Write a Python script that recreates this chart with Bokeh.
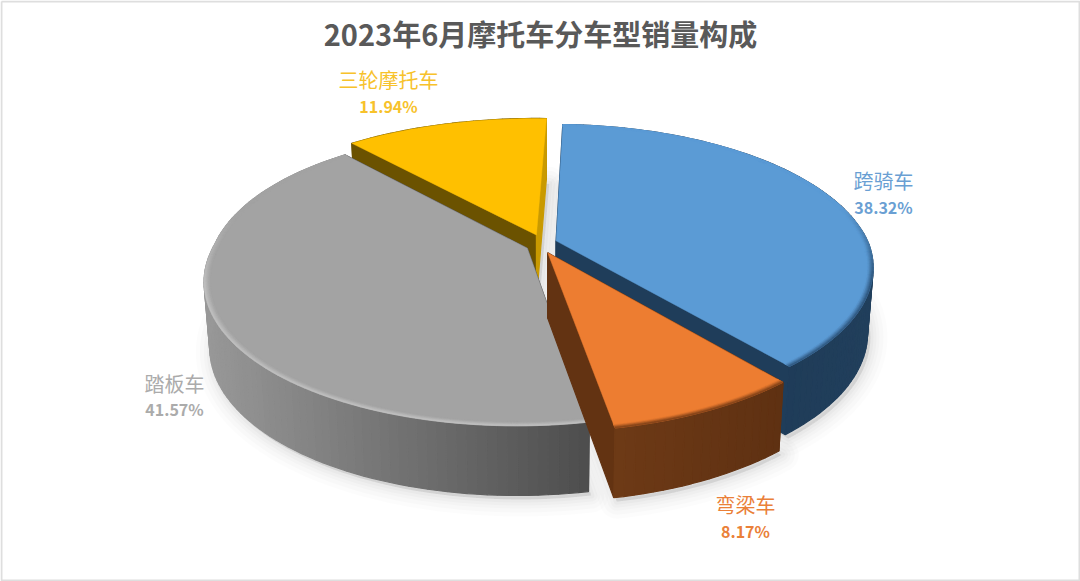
import math
from bokeh.plotting import figure
from bokeh.models import Range1d
from bokeh.core.properties import value
from bokeh.embed import file_html
from bokeh.resources import INLINE

# ---------- data ----------
title_text = "2023年6月摩托车分车型销量构成"
categories = ["跨骑车", "弯梁车", "踏板车", "三轮摩托车"]
shares = [38.32, 8.17, 41.57, 11.94]

# ---------- styles ----------
top_colors = ["#5B9BD5", "#ED7D31", "#A3A3A3", "#FFC000"]
label_colors = ["#6A9FD3", "#EA8038", "#ABABAB", "#F7C22B"]
rim_colors = ["#274A6E", "#6B3513", "#C6C6C6", "#FFC000"]
wall_left = ["#1F3C58", "#6E3A16", "#989898", "#6B5200"]
wall_right = ["#213F5C", "#5F3112", "#4E4E4E", "#6B5200"]
radial_start = ["#1F3C58", "#633312", "#505050", "#6B5200"]
radial_end = ["#1F3D5A", "#633312", "#505050", "#C99A00"]
label_xy = [(883, 180, 883, 206), (745, 504, 745, 530), (174, 383, 174, 408), (388, 79, 388, 105)]
font = value("Noto Sans CJK SC")
W, H_PAGE = 1080, 581

# ---------- projection of the exploded, tilted disk ----------
CX, CY, R, RY, K, H = 541.0, 243.5, 316.0, 142.0, 0.20, 65.0
EU, EV = 0.049, 0.068
ROT = 2.0
SHRINK = 0.983
SHEAR = -7.0
SHEAR_BACK = 10.0
RAD = [0.99, 0.985, 0.99, 1.01]      # per-slice radius trim
EXP = [1.0, 1.0, 1.0, 1.0]           # per-slice explosion trim


def proj(u, v, drop=False):
    s = 1 / (1 - K * v)
    x = CX + R * u * s + SHEAR * max(v, 0.0) + SHEAR_BACK * min(v, 0.0) * max(-u, 0.0)
    y = CY + RY * v * s
    if drop:
        x = CX + (x - CX) * SHRINK
        y += H * s ** 0.3
    return x, y


def hex2rgb(c):
    return tuple(int(c[i:i + 2], 16) for i in (1, 3, 5))


def mix(a, b, t):
    t = max(0.0, min(1.0, t))
    ra, rb = hex2rgb(a), hex2rgb(b)
    return "#%02x%02x%02x" % tuple(round(x + (y - x) * t) for x, y in zip(ra, rb))


p = figure(width=W, height=H_PAGE, output_backend="svg", toolbar_location=None,
           x_range=Range1d(0, W), y_range=Range1d(H_PAGE, 0), min_border=0)
p.axis.visible = False
p.grid.visible = False
p.outline_line_color = None
p.background_fill_color = "white"
p.border_fill_color = "white"

total = sum(shares)
slices = []
a = ROT
for i, sh in enumerate(shares):
    b = a + sh / total * 360
    slices.append((i, a, b))
    a = b


def geom(i, a0, a1):
    mid = math.radians((a0 + a1) / 2)
    u0, v0 = EXP[i] * EU * math.sin(mid), -EXP[i] * EV * math.cos(mid)
    n = max(4, int((a1 - a0) / 1.5))
    angs = [math.radians(a0 + (a1 - a0) * j / n) for j in range(n + 1)]
    return u0, v0, angs


# soft shadow underneath
for w, alpha in ((34, 0.012), (26, 0.014), (18, 0.016), (12, 0.02), (6, 0.025)):
    for i, a0, a1 in slices:
        u0, v0, angs = geom(i, a0, a1)
        rr = RAD[i]
        pts = [proj(u0, v0, True)] + [proj(u0 + rr * math.sin(t), v0 - rr * math.cos(t), True) for t in angs]
        p.patch([q[0] + 3 for q in pts], [q[1] + 4 for q in pts], fill_color="black", fill_alpha=alpha,
                line_color="black", line_alpha=alpha, line_width=w, line_join="round")

# painter's order: back slice first, front slice last
wall_span = {0: (780.0, 873.0), 1: (616.0, 783.0), 2: (205.0, 590.0), 3: (350.0, 545.0)}
for i, a0, a1 in (slices[3], slices[0], slices[2], slices[1]):
    u0, v0, angs = geom(i, a0, a1)
    rr = RAD[i]
    xs, ys, cs = [], [], []

    def quad(pts, c):
        xs.append([q[0] for q in pts])
        ys.append([q[1] for q in pts])
        cs.append(c)

    xmin, xmax = wall_span[i]
    segs = list(zip(angs[:-1], angs[1:]))

    def wall(t0, t1):
        e0 = (u0 + rr * math.sin(t0), v0 - rr * math.cos(t0))
        e1 = (u0 + rr * math.sin(t1), v0 - rr * math.cos(t1))
        quad([proj(*e0), proj(*e1), proj(*e1, True), proj(*e0, True)],
             mix(wall_left[i], wall_right[i], (proj(*e0)[0] - xmin) / (xmax - xmin)))

    # far side of the rim, then the cut faces, then the near side of the rim
    for t0, t1 in segs:
        if -math.cos((t0 + t1) / 2) < -0.02:
            wall(t0, t1)
    for t, c, drop_scale in ((angs[0], radial_start[i], 1), (angs[-1], radial_end[i], 1)):
        e = (u0 + rr * math.sin(t), v0 - rr * math.cos(t))
        quad([proj(u0, v0), proj(*e), proj(*e, True), proj(u0, v0, True)], c)
    for t0, t1 in segs:
        if -math.cos((t0 + t1) / 2) >= -0.02:
            wall(t0, t1)
    p.patches(xs, ys, fill_color=cs, line_color=cs, line_width=1.2)

    # top face
    top = [proj(u0, v0)] + [proj(u0 + rr * math.sin(t), v0 - rr * math.cos(t)) for t in angs]
    p.patch([q[0] for q in top], [q[1] for q in top], fill_color=top_colors[i],
            line_color=top_colors[i], line_width=0.5)

    # bevel along the outer rim
    if i != 3:
        xs, ys, cs = [], [], []
        rings = [0.98, 0.984, 0.988, 0.991, 0.994, 0.997, 1.0]
        for r0, r1 in zip(rings[:-1], rings[1:]):
            for t0, t1 in segs:
                vm = -math.cos((t0 + t1) / 2)
                strength = (vm + 0.25) / 0.5
                f = ((r0 - 0.98) / 0.02) ** 1.3 * max(0.0, min(1.0, strength))
                pts = [proj(u0 + rr * r0 * math.sin(t0), v0 - rr * r0 * math.cos(t0)),
                       proj(u0 + rr * r1 * math.sin(t0), v0 - rr * r1 * math.cos(t0)),
                       proj(u0 + rr * r1 * math.sin(t1), v0 - rr * r1 * math.cos(t1)),
                       proj(u0 + rr * r0 * math.sin(t1), v0 - rr * r0 * math.cos(t1))]
                quad(pts, mix(top_colors[i], rim_colors[i], f))
        p.patches(xs, ys, fill_color=cs, line_color=cs, line_width=0.6)

# texts
p.text([540], [32], text=[title_text], text_font=font, text_font_size="29px", text_font_style="bold",
       text_color="#595959", text_align="center", text_baseline="middle")
for i, cat in enumerate(categories):
    x1, y1, x2, y2 = label_xy[i]
    p.text([x1], [y1], text=[cat], text_font=font, text_font_size="20px", text_color=label_colors[i],
           text_align="center", text_baseline="middle")
    p.text([x2], [y2], text=["%.2f%%" % shares[i]], text_font=font, text_font_size="16px", text_font_style="bold",
           text_color=label_colors[i], text_align="center", text_baseline="middle")

# thin frame of the picture
p.line([1, 1, W - 1, W - 1, 1], [1, H_PAGE - 1, H_PAGE - 1, 1, 1], line_color="#DEDEDE", line_width=2)

open("out.html", "w").write(file_html(p, INLINE))
